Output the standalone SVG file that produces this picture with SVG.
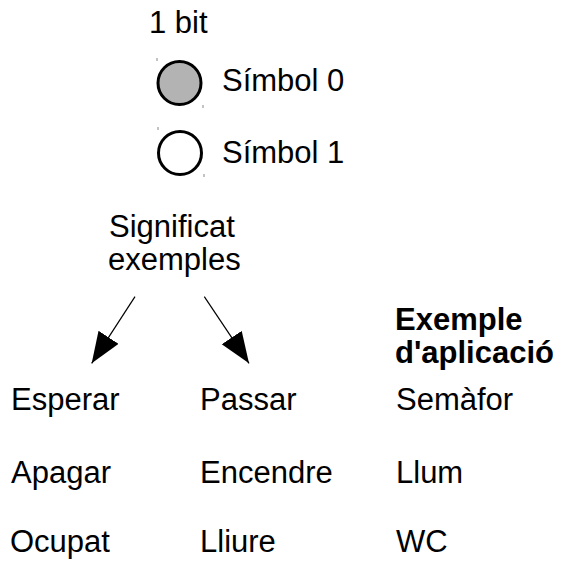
<svg xmlns="http://www.w3.org/2000/svg" width="563" height="564" viewBox="0 0 563 564">
<defs>
<style>
text{font-family:"Liberation Sans",Arial,sans-serif;font-size:31px;fill:#000}
.b{font-weight:bold}
.sym{stroke:#000;stroke-width:3}
.tick{stroke:#888;stroke-width:1}
.conn{stroke:#000;stroke-width:1.2;fill:none}
</style>
<marker id="ah" markerUnits="userSpaceOnUse" markerWidth="32" markerHeight="25" refX="31" refY="12" orient="auto">
<path d="M0,0 L31,12 L0,24 z" fill="#000"/>
</marker>
</defs>
<rect width="563" height="564" fill="#fff"/>
<g id="title"><text x="149" y="33">1 bit</text></g>
<g id="symbol0">
<circle class="sym" cx="179.5" cy="83" r="21.5" fill="#b3b3b3"/>
<line class="tick" x1="157" y1="58" x2="157" y2="61"/>
<line class="tick" x1="203" y1="105" x2="203" y2="108"/>
<text x="222" y="91">Símbol 0</text>
</g>
<g id="symbol1">
<circle class="sym" cx="180" cy="153" r="21.5" fill="#fff"/>
<line class="tick" x1="158" y1="127" x2="158" y2="130"/>
<line class="tick" x1="204" y1="174" x2="204" y2="177"/>
<text x="222" y="163">Símbol 1</text>
</g>
<g id="meaning"><text x="109" y="237">Significat</text><text x="108" y="270">exemples</text></g>
<g id="connectors">
<line class="conn" x1="135" y1="296.7" x2="91.7" y2="363.3" marker-end="url(#ah)"/>
<line class="conn" x1="204.3" y1="296.7" x2="249" y2="363.3" marker-end="url(#ah)"/>
</g>
<g id="header"><text class="b" x="395" y="330">Exemple</text><text class="b" x="395" y="363">d'aplicació</text></g>
<g id="col0">
<text x="11" y="410">Esperar</text>
<text x="11" y="483">Apagar</text>
<text x="10" y="552">Ocupat</text>
</g>
<g id="col1">
<text x="200" y="410">Passar</text>
<text x="200" y="483">Encendre</text>
<text x="200" y="552">Lliure</text>
</g>
<g id="col2">
<text x="396" y="410">Semàfor</text>
<text x="396" y="483">Llum</text>
<text x="396" y="552">WC</text>
</g>
</svg>
